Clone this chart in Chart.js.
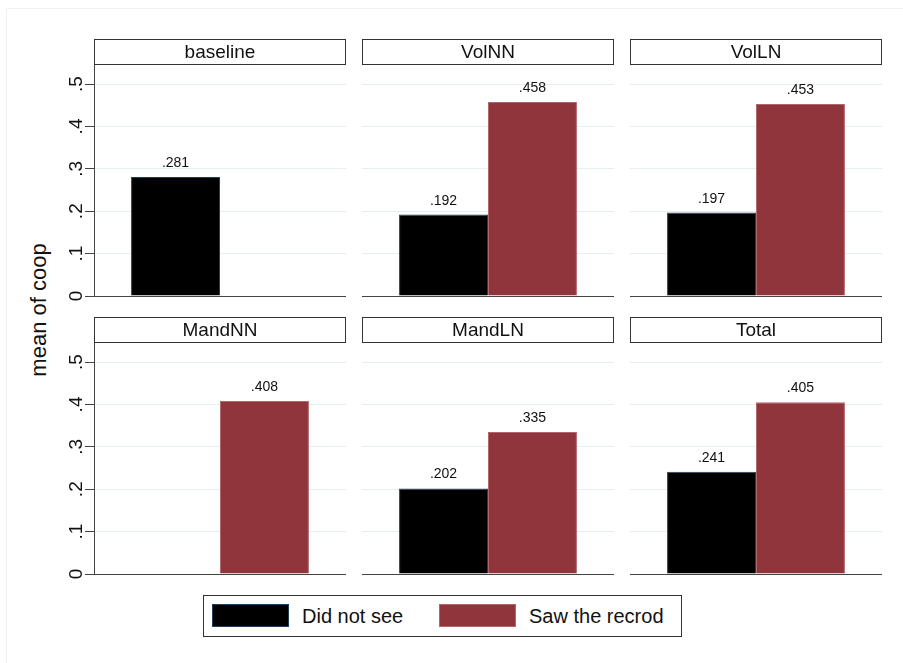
<!DOCTYPE html>
<html>
<head>
<meta charset="utf-8">
<title>mean of coop</title>
<script src="https://cdn.jsdelivr.net/npm/chart.js@4.4.0/dist/chart.umd.min.js"></script>
<style>
  body {
    margin: 0;
    width: 903px;
    height: 663px;
    overflow: hidden;
    background: #fff;
    position: relative;
    font-family: "Liberation Sans", Arial, sans-serif;
    color: #111;
  }
  .frame {
    position: absolute;
    left: 6px;
    top: 8px;
    width: 1000px;
    height: 1000px;
    border: 1px solid #f0f0f0;
  }
  canvas { position: absolute; }
  #ytitle {
    position: absolute;
    left: 39px;
    top: 310px;
    font-size: 22px;
    white-space: nowrap;
    transform: translate(-50%, -50%) rotate(-90deg);
  }
  #legend {
    position: absolute;
    left: 203px;
    top: 595px;
    width: 479px;
    height: 42px;
    box-sizing: border-box;
    border: 1px solid #333;
  }
  #legend .sw {
    position: absolute;
    top: 8px;
    width: 77px;
    height: 23px;
    box-sizing: border-box;
    border: 1px solid;
  }
  #legend .lbl {
    position: absolute;
    top: 0;
    line-height: 40px;
    font-size: 20px;
    white-space: nowrap;
  }
</style>
</head>
<body>
<div class="frame"></div>
<div id="ytitle">mean of coop</div>
<div id="legend"></div>

<script>
// data
const panels = ['baseline', 'VolNN', 'VolLN', 'MandNN', 'MandLN', 'Total'];
const didNotSee = [0.281, 0.192, 0.197, null, 0.202, 0.241];
const sawRecord = [null, 0.458, 0.453, 0.408, 0.335, 0.405];
const seriesNames = ['Did not see', 'Saw the recrod'];
const yTicks = [0, 0.1, 0.2, 0.3, 0.4, 0.5];
const yTickLabels = ['0', '.1', '.2', '.3', '.4', '.5'];
const yMax = 0.545;

const colors = ['#000000', '#90353b'];
const edgeColors = ['#1f3f5f', '#b0666c'];

// layout of the 2x3 grid (plot areas)
const colLeft = [94, 362, 630];
const rowTop = [39, 317];
const plotW = 252;
const stripH = 26;
const plotH = 231;
const axisW = 50;
const FONT = '"Liberation Sans", Arial, sans-serif';

function fmt(v) {
    return v.toFixed(3).replace(/^0/, '');
}

// strip title box above each panel
const stripPlugin = {
    id: 'strip',
    beforeDraw(chart, args, opts) {
        const { ctx, chartArea } = chart;
        ctx.save();
        ctx.fillStyle = '#fff';
        ctx.strokeStyle = '#333';
        ctx.lineWidth = 1;
        const w = chartArea.right - chartArea.left - 1;
        ctx.fillRect(chartArea.left + 0.5, 0.5, w, stripH - 1);
        ctx.strokeRect(chartArea.left + 0.5, 0.5, w, stripH - 1);
        ctx.fillStyle = '#111';
        ctx.font = '19px ' + FONT;
        ctx.textAlign = 'center';
        ctx.textBaseline = 'middle';
        ctx.fillText(opts.text, (chartArea.left + chartArea.right) / 2, stripH / 2 + 1);
        ctx.restore();
    }
};

// vertical tick labels (Stata style) on the left column
const yLabelPlugin = {
    id: 'ylabels',
    afterDraw(chart, args, opts) {
        if (!opts.show) return;
        const { ctx, chartArea } = chart;
        const scale = chart.scales.y;
        ctx.save();
        ctx.fillStyle = '#111';
        ctx.font = '19px ' + FONT;
        ctx.textAlign = 'center';
        ctx.textBaseline = 'middle';
        scale.ticks.forEach(t => {
            const py = scale.getPixelForValue(t.value);
            ctx.save();
            ctx.translate(chartArea.left - 17, py);
            ctx.rotate(-Math.PI / 2);
            ctx.fillText(yTickLabels[yTicks.indexOf(t.value)], 0, 0);
            ctx.restore();
        });
        ctx.restore();
    }
};

// value above each bar
const valuePlugin = {
    id: 'values',
    afterDatasetsDraw(chart) {
        const { ctx } = chart;
        ctx.save();
        ctx.fillStyle = '#111';
        ctx.font = '14px ' + FONT;
        ctx.textAlign = 'center';
        ctx.textBaseline = 'alphabetic';
        chart.data.datasets.forEach((ds, di) => {
            chart.getDatasetMeta(di).data.forEach((bar, j) => {
                const v = ds.data[j];
                if (v == null) return;
                ctx.fillText(fmt(v), bar.x, bar.y - 10);
            });
        });
        ctx.restore();
    }
};

panels.forEach((name, i) => {
    const col = i % 3;
    const row = Math.floor(i / 3);
    const left = col === 0;

    const canvas = document.createElement('canvas');
    const cw = plotW + (left ? axisW : 0);
    const ch = stripH + plotH + 8;
    canvas.width = cw;
    canvas.height = ch;
    canvas.style.left = (colLeft[col] - (left ? axisW : 0)) + 'px';
    canvas.style.top = rowTop[row] + 'px';
    document.body.appendChild(canvas);

    new Chart(canvas.getContext('2d'), {
        type: 'bar',
        data: {
            labels: [''],
            datasets: [{
                label: seriesNames[0],
                data: [didNotSee[i]],
                backgroundColor: colors[0],
                borderColor: edgeColors[0],
                borderWidth: 1
            }, {
                label: seriesNames[1],
                data: [sawRecord[i]],
                backgroundColor: colors[1],
                borderColor: edgeColors[1],
                borderWidth: 1
            }]
        },
        options: {
            responsive: false,
            animation: false,
            devicePixelRatio: 1,
            layout: { padding: { top: stripH, bottom: 8, left: 0, right: 0 } },
            datasets: {
                bar: { categoryPercentage: 0.706, barPercentage: 1 }
            },
            scales: {
                x: {
                    grid: { display: false },
                    ticks: { display: false },
                    border: { display: true, color: '#444', width: 1 },
                    afterFit(s) { s.height = 0; }
                },
                y: {
                    min: 0,
                    max: yMax,
                    afterBuildTicks(s) { s.ticks = yTicks.map(v => ({ value: v })); },
                    grid: {
                        color: '#e6eff1',
                        lineWidth: 1,
                        drawTicks: left,
                        tickLength: 9,
                        tickColor: '#444'
                    },
                    ticks: { display: false },
                    border: { display: left, color: '#444', width: 1 },
                    afterFit(s) { s.width = left ? axisW : 0; }
                }
            },
            plugins: {
                legend: { display: false },
                tooltip: { enabled: false },
                strip: { text: name },
                ylabels: { show: left }
            }
        },
        plugins: [stripPlugin, yLabelPlugin, valuePlugin]
    });
});

// legend built from the series names and colours
const legend = document.getElementById('legend');
const swLeft = [8, 235];
const txtLeft = [98, 325];
seriesNames.forEach((s, k) => {
    const sw = document.createElement('div');
    sw.className = 'sw';
    sw.style.left = swLeft[k] + 'px';
    sw.style.background = colors[k];
    sw.style.borderColor = edgeColors[k];
    legend.appendChild(sw);
    const t = document.createElement('div');
    t.className = 'lbl';
    t.style.left = txtLeft[k] + 'px';
    t.textContent = s;
    legend.appendChild(t);
});
</script>
</body>
</html>
